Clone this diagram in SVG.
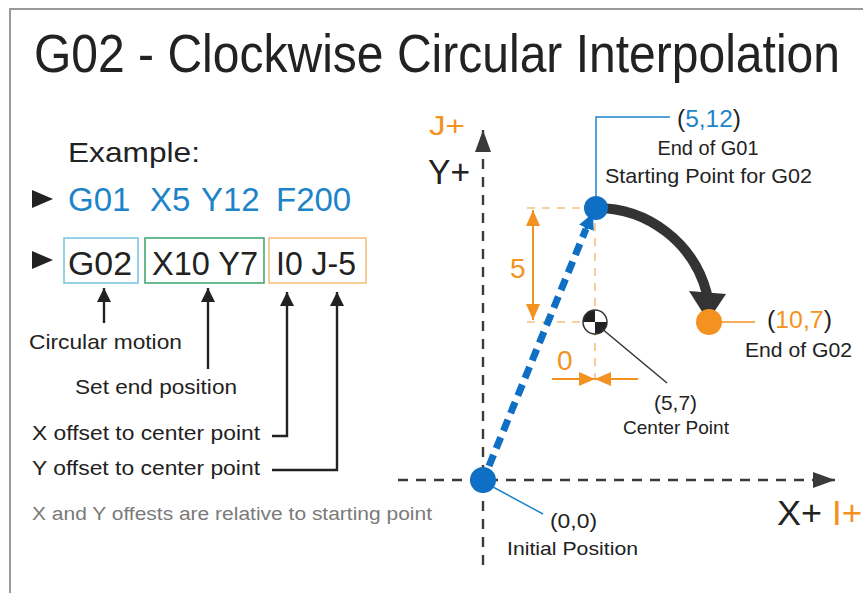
<svg xmlns="http://www.w3.org/2000/svg" width="863" height="593" viewBox="0 0 863 593">
<style>
text{font-family:"Liberation Sans","DejaVu Sans",sans-serif;fill:#222}
.blue{fill:#1e84c9}
.org{fill:#f39221}
.lbl{font-size:21px}
.note{font-size:18px;fill:#7a7a7a}
.code{font-size:34px}
.ptr{stroke:#222;stroke-width:2.4;fill:none}
.odash{stroke:#f6c07e;stroke-width:1.6;stroke-dasharray:8 7;fill:none}
.axis{stroke:#3a3a3a;stroke-width:2.4;stroke-dasharray:10 8;fill:none}
.dim{stroke:#f39221;stroke-width:2;fill:none}
</style>
<defs>
<marker id="ah" viewBox="0 0 14 14" refX="14" refY="7" markerWidth="14" markerHeight="14" markerUnits="userSpaceOnUse" orient="auto"><path d="M0,0 L14,7 L0,14 z" fill="#222"/></marker>
<marker id="oa" viewBox="0 0 16 14" refX="16" refY="7" markerWidth="16" markerHeight="14" markerUnits="userSpaceOnUse" orient="auto"><path d="M0,0 L16,7 L0,14 z" fill="#f39221"/></marker>
<marker id="ax" viewBox="0 0 22 16" refX="22" refY="8" markerWidth="22" markerHeight="16" markerUnits="userSpaceOnUse" orient="auto"><path d="M0,0 L22,8 L0,16 z" fill="#3a3a3a"/></marker>
<marker id="ba" viewBox="0 0 16 16" refX="14" refY="8" markerWidth="16" markerHeight="16" markerUnits="userSpaceOnUse" orient="auto"><path d="M0,0 L16,8 L0,16 z" fill="#0f6fc4"/></marker>
</defs>
<rect width="863" height="593" fill="#fff"/>
<path d="M10,593 V9 H863" stroke="#9a9a9a" stroke-width="2" fill="none"/>

<g id="title"><text transform="translate(34,72) scale(1,1.12)" x="0" y="0" font-size="48" textLength="806" lengthAdjust="spacingAndGlyphs">G02 - Clockwise Circular Interpolation</text></g>

<g id="example">
<text x="68" y="162" font-size="28" textLength="132" lengthAdjust="spacingAndGlyphs">Example:</text>
<path d="M32,190 L53,199 L32,208 z" fill="#222"/>
<text class="blue" x="68" y="211" font-size="33">G01</text>
<text class="blue" x="150" y="211" font-size="33">X5</text>
<text class="blue" x="201" y="211" font-size="33">Y12</text>
<text class="blue" x="276" y="211" font-size="33">F200</text>
<path d="M32,251 L53,260 L32,269 z" fill="#222"/>
</g>

<g id="box-g02"><rect x="64" y="238" width="74" height="45" fill="none" stroke="#7cc7df" stroke-width="1.6"/><text class="code" x="68" y="275" textLength="64" lengthAdjust="spacingAndGlyphs">G02</text></g>
<g id="box-xy"><rect x="145" y="238" width="119" height="45" fill="none" stroke="#45a873" stroke-width="1.6"/><text class="code" x="152" y="275" textLength="106" lengthAdjust="spacingAndGlyphs">X10 Y7</text></g>
<g id="box-ij"><rect x="269" y="238" width="97" height="45" fill="none" stroke="#f6c27e" stroke-width="1.6"/><text class="code" x="276" y="275" textLength="80" lengthAdjust="spacingAndGlyphs">I0 J-5</text></g>

<g id="labels">
<text class="lbl" x="29" y="349" textLength="153" lengthAdjust="spacingAndGlyphs">Circular motion</text>
<text class="lbl" x="75" y="394" textLength="162" lengthAdjust="spacingAndGlyphs">Set end position</text>
<text class="lbl" x="32" y="440" textLength="228" lengthAdjust="spacingAndGlyphs">X offset to center point</text>
<text class="lbl" x="32" y="475" textLength="228" lengthAdjust="spacingAndGlyphs">Y offset to center point</text>
<text class="note" x="32" y="520" textLength="400" lengthAdjust="spacingAndGlyphs">X and Y offests are relative to starting point</text>
</g>

<g id="connectors">
<path class="ptr" d="M104,323 V288" marker-end="url(#ah)"/>
<path class="ptr" d="M208,369 V288" marker-end="url(#ah)"/>
<path class="ptr" d="M272,436 H287 V292" marker-end="url(#ah)"/>
<path class="ptr" d="M272,470 H337 V292" marker-end="url(#ah)"/>
</g>

<g id="axes">
<path class="axis" d="M483,565 V130" marker-end="url(#ax)"/>
<path class="axis" d="M398,480 H835" marker-end="url(#ax)"/>
<text class="org" x="429" y="135" font-size="27" textLength="36" lengthAdjust="spacingAndGlyphs">J+</text>
<text x="428" y="184" font-size="35" fill="#333" textLength="42" lengthAdjust="spacingAndGlyphs">Y+</text>
<text x="777" y="525" font-size="35" textLength="45" lengthAdjust="spacingAndGlyphs">X+</text>
<text class="org" x="832" y="525" font-size="35">I+</text>
</g>

<g id="guides">
<path class="odash" d="M527,208 H595 M527,322 H583 M595,208 V378"/>
<path class="dim" d="M533,265 V210" marker-end="url(#oa)"/>
<path class="dim" d="M533,265 V320" marker-end="url(#oa)"/>
<text class="org" x="510" y="278" font-size="28">5</text>
<path class="dim" d="M552,379 H595" marker-end="url(#oa)"/>
<path class="dim" d="M638,379 H595" marker-end="url(#oa)"/>
<text class="org" x="557" y="370" font-size="28">0</text>
</g>

<g id="g01-path">
<path d="M489,466 L586,229" stroke="#0f6fc4" stroke-width="7" stroke-dasharray="12 7" fill="none"/>
<path d="M586,229 L592,215" stroke="#0f6fc4" stroke-width="4" marker-end="url(#ba)"/>
</g>

<g id="arc">
<path d="M596,208 A114,114 0 0 1 707,294" stroke="#333" stroke-width="10" fill="none"/>
<path d="M689,291 L726,294 L708,321 z" fill="#333"/>
</g>

<g id="origin">
<circle cx="483" cy="480" r="13" fill="#0f6fc4"/>
<path d="M493,487 L543,514" stroke="#1e84c9" stroke-width="1.5"/>
<text x="550" y="528" font-size="21" textLength="47" lengthAdjust="spacingAndGlyphs">(0,0)</text>
<text x="507" y="555" font-size="19" textLength="131" lengthAdjust="spacingAndGlyphs">Initial Position</text>
</g>

<g id="start">
<circle cx="596" cy="208" r="12" fill="#0f6fc4"/>
<path d="M596,196 V117 H670" stroke="#1e84c9" stroke-width="1.5" fill="none"/>
<text x="677" y="127" font-size="23" textLength="64" lengthAdjust="spacingAndGlyphs">(<tspan class="blue">5,12</tspan>)</text>
<text x="708" y="155" font-size="20" text-anchor="middle">End of G01</text>
<text x="605" y="183" font-size="21" textLength="207" lengthAdjust="spacingAndGlyphs">Starting Point for G02</text>
</g>

<g id="center">
<circle cx="595" cy="322" r="12" fill="#fff"/>
<path d="M595,322 V310 A12,12 0 0 0 583,322 z M595,322 V334 A12,12 0 0 0 607,322 z" fill="#222"/>
<circle cx="595" cy="322" r="12" fill="none" stroke="#333" stroke-width="1.5"/>
<path d="M601,328 L667,383" stroke="#333" stroke-width="1.5"/>
<text x="654" y="410" font-size="21" textLength="43" lengthAdjust="spacingAndGlyphs">(5,7)</text>
<text x="623" y="434" font-size="19" textLength="106" lengthAdjust="spacingAndGlyphs">Center Point</text>
</g>

<g id="end">
<circle cx="709" cy="322" r="13" fill="#f39221"/>
<path d="M720,322 H755" stroke="#f39221" stroke-width="1.5"/>
<text x="767" y="328" font-size="23" textLength="65" lengthAdjust="spacingAndGlyphs">(<tspan class="org">10,7</tspan>)</text>
<text x="745" y="357" font-size="20" textLength="107" lengthAdjust="spacingAndGlyphs">End of G02</text>
</g>
</svg>
